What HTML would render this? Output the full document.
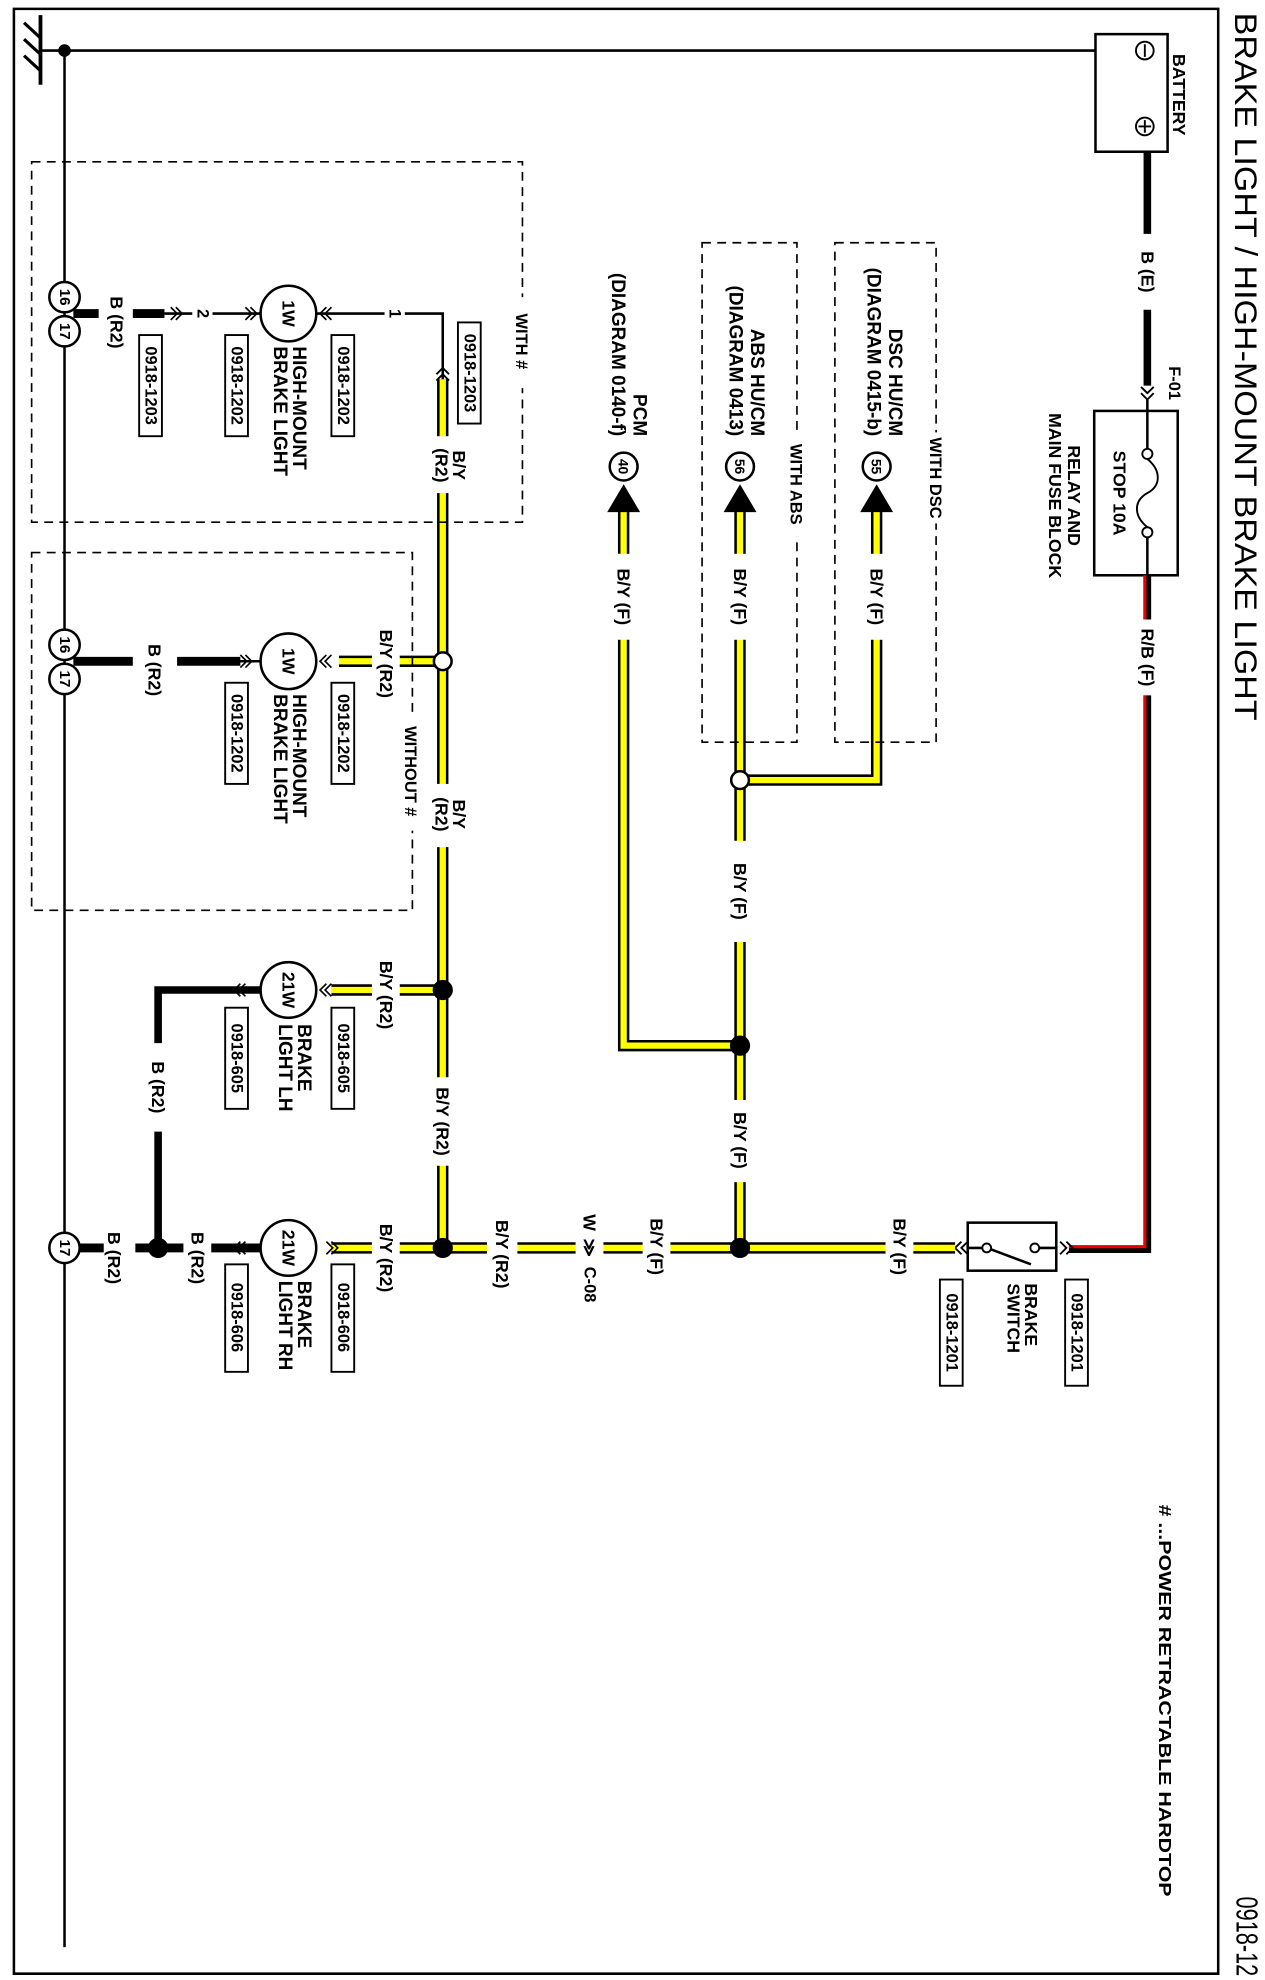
<!DOCTYPE html>
<html><head><meta charset="utf-8"><style>
html,body{margin:0;padding:0;background:#fff;width:1265px;height:1980px;overflow:hidden}
svg{display:block}
text{font-family:"Liberation Sans",Arial,sans-serif;font-weight:bold;fill:#000;dominant-baseline:central}
</style></head><body>
<svg width="1265" height="1980" viewBox="0 0 1000 1566" preserveAspectRatio="none" xmlns="http://www.w3.org/2000/svg">
<rect x="0" y="0" width="1000" height="1566" fill="#fff"/>
<path d="M11 1561 V7 H963 V1561 Z" fill="none" stroke="#000" stroke-width="2"/>
<path d="M32 12 V67" stroke="#000" stroke-width="3"/>
<path d="M19 18 L32 30 M19 31 L32 43 M19 44 L32 56" stroke="#000" stroke-width="2.5"/>
<path d="M32 40 H907 M51 40 V1540" stroke="#000" stroke-width="2"/>
<circle cx="51" cy="40" r="5"/>
<rect x="866" y="27" width="57" height="93" fill="#fff" stroke="#000" stroke-width="2"/>
<circle cx="905" cy="40" r="7" fill="#fff" stroke="#000" stroke-width="1.5"/><path d="M905 35 V45" stroke="#000" stroke-width="1.5"/>
<circle cx="905" cy="100" r="7" fill="#fff" stroke="#000" stroke-width="1.5"/><path d="M905 95 V105 M900 100 H910" stroke="#000" stroke-width="1.5"/>
<text transform="translate(932,75) rotate(90)" font-size="14" text-anchor="middle">BATTERY</text>
<text transform="translate(985,10) rotate(90)" font-size="25" textLength="560" lengthAdjust="spacingAndGlyphs" style="font-weight:normal">BRAKE LIGHT / HIGH-MOUNT BRAKE LIGHT</text>
<text transform="translate(985,1500) rotate(90)" font-size="24" textLength="63" lengthAdjust="spacingAndGlyphs" style="font-weight:normal">0918-12</text>
<text transform="translate(921,1190) rotate(90)" font-size="14" textLength="310" lengthAdjust="spacingAndGlyphs">#  ...POWER RETRACTABLE HARDTOP</text>
<path d="M907 120 V185 M907 245 V305" stroke="#000" stroke-width="6"/>
<text transform="translate(907,215) rotate(90)" font-size="14" text-anchor="middle">B (E)</text>
<text transform="translate(928,303) rotate(90)" font-size="13" text-anchor="middle">F-01</text>
<path d="M902 306 L907 311 L912 306 M902 311 L907 316 L912 311" fill="none" stroke="#000" stroke-width="1.5"/>
<rect x="865" y="325" width="66" height="130" fill="#fff" stroke="#000" stroke-width="2"/>
<path d="M907 316 V355 M907 425 V455" stroke="#000" stroke-width="2"/>
<circle cx="907" cy="359" r="4" fill="#fff" stroke="#000" stroke-width="1.5"/>
<circle cx="907" cy="421" r="4" fill="#fff" stroke="#000" stroke-width="1.5"/>
<path d="M907 363 C918 372 918 384 907 390 C896 396 896 408 907 417" fill="none" stroke="#000" stroke-width="1.5"/>
<text transform="translate(885,390) rotate(90)" font-size="14" text-anchor="middle">STOP 10A</text>
<text transform="translate(849,392) rotate(90)" font-size="14" text-anchor="middle">RELAY AND</text>
<text transform="translate(834,392) rotate(90)" font-size="14" text-anchor="middle">MAIN FUSE BLOCK</text>
<path d="M907 455 V490 M907 550 V988 H845" fill="none" stroke="#000" stroke-width="6"/>
<path d="M905 455 V490 M905 550 V986 H845" fill="none" stroke="#e00" stroke-width="2.5"/>
<text transform="translate(907,520) rotate(90)" font-size="14" text-anchor="middle">R/B (F)</text>
<path d="M843 982 L848 987 L843 992 M838 982 L843 987 L838 992" fill="none" stroke="#000" stroke-width="1.5"/>
<rect x="765" y="967" width="70" height="38" fill="#fff" stroke="#000" stroke-width="2"/>
<path d="M835 987 H822 M777 987 H765" stroke="#000" stroke-width="2"/>
<circle cx="818" cy="987" r="3.5" fill="#fff" stroke="#000" stroke-width="1.5"/>
<circle cx="780" cy="987" r="3.5" fill="#fff" stroke="#000" stroke-width="1.5"/>
<path d="M783 988 L815 1000" stroke="#000" stroke-width="2"/>
<rect x="842" y="1012" width="18" height="84" fill="#fff" stroke="#000" stroke-width="1.5"/>
<text transform="translate(851,1054) rotate(90)" font-size="13" text-anchor="middle">0918-1201</text>
<rect x="743" y="1012" width="18" height="84" fill="#fff" stroke="#000" stroke-width="1.5"/>
<text transform="translate(752,1054) rotate(90)" font-size="13" text-anchor="middle">0918-1201</text>
<text transform="translate(815,1015) rotate(90)" font-size="14">BRAKE</text>
<text transform="translate(801,1015) rotate(90)" font-size="14">SWITCH</text>
<path d="M760 982 L755 987 L760 992 M765 982 L760 987 L765 992" fill="none" stroke="#000" stroke-width="1.5"/>

<g fill="none" stroke="#000" stroke-width="9">
<path d="M755 987 H262"/><path d="M585 987 V400"/><path d="M585 617 H693 V400"/>
<path d="M585 827 H493 V400"/><path d="M350 987 V300"/><path d="M350 783 H262"/><path d="M350 523 H268"/>
</g>
<g fill="none" stroke="#ff0" stroke-width="5">
<path d="M755 987 H262"/><path d="M585 987 V400"/><path d="M585 617 H693 V400"/>
<path d="M585 827 H493 V400"/><path d="M350 987 V300"/><path d="M350 783 H262"/><path d="M350 523 H268"/>
</g>
<g fill="#fff">
<rect x="700" y="957" width="22" height="58"/><rect x="508" y="957" width="22" height="58"/>
<rect x="455" y="957" width="22" height="80"/><rect x="385" y="957" width="24" height="70"/>
<rect x="294" y="957" width="22" height="75"/><rect x="294" y="752" width="22" height="70"/>
<rect x="294" y="497" width="22" height="55"/><rect x="338" y="852" width="24" height="70"/>
<rect x="338" y="620" width="24" height="50"/><rect x="338" y="345" width="24" height="45"/>
<rect x="574" y="665" width="22" height="80"/><rect x="574" y="870" width="22" height="65"/>
<rect x="574" y="438" width="22" height="68"/><rect x="482" y="438" width="22" height="68"/>
<rect x="682" y="438" width="22" height="68"/>
</g>
<g font-size="14" text-anchor="middle">
<text transform="translate(711,986) rotate(90)">B/Y (F)</text>
<text transform="translate(519,986) rotate(90)">B/Y (F)</text>
<text transform="translate(466,967) rotate(90)">W</text>
<text transform="translate(466,987) rotate(90)">≫</text>
<text transform="translate(466,1016) rotate(90)" font-size="13">C-08</text>
<text transform="translate(397,992) rotate(90)">B/Y (R2)</text>
<text transform="translate(305,995) rotate(90)">B/Y (R2)</text>
<text transform="translate(305,787) rotate(90)">B/Y (R2)</text>
<text transform="translate(305,525) rotate(90)">B/Y (R2)</text>
<text transform="translate(350,887) rotate(90)">B/Y (R2)</text>
<text transform="translate(363,644) rotate(90)">B/Y</text>
<text transform="translate(349,644) rotate(90)">(R2)</text>
<text transform="translate(363,368) rotate(90)">B/Y</text>
<text transform="translate(349,368) rotate(90)">(R2)</text>
<text transform="translate(585,705) rotate(90)">B/Y (F)</text>
<text transform="translate(585,902) rotate(90)">B/Y (F)</text>
<text transform="translate(585,472) rotate(90)">B/Y (F)</text>
<text transform="translate(493,472) rotate(90)">B/Y (F)</text>
<text transform="translate(693,472) rotate(90)">B/Y (F)</text>
</g>
<circle cx="585" cy="987" r="8"/><circle cx="350" cy="987" r="8"/>
<circle cx="585" cy="827" r="8"/><circle cx="350" cy="783" r="8"/>
<circle cx="585" cy="617" r="7" fill="#fff" stroke="#000" stroke-width="2"/>
<circle cx="350" cy="523" r="7" fill="#fff" stroke="#000" stroke-width="2"/>
<path d="M693 383 L680 405 L706 405 Z"/><circle cx="693" cy="369" r="11" fill="#fff" stroke="#000" stroke-width="2"/>
<path d="M585 383 L572 405 L598 405 Z"/><circle cx="585" cy="369" r="11" fill="#fff" stroke="#000" stroke-width="2"/>
<path d="M493 383 L480 405 L506 405 Z"/><circle cx="493" cy="369" r="11" fill="#fff" stroke="#000" stroke-width="2"/>
<text transform="translate(693,369) rotate(90)" font-size="11" text-anchor="middle">55</text>
<text transform="translate(585,369) rotate(90)" font-size="11" text-anchor="middle">56</text>
<text transform="translate(493,369) rotate(90)" font-size="11" text-anchor="middle">40</text>
<g font-size="15" text-anchor="end">
<text transform="translate(707,345) rotate(90)">DSC HU/CM</text>
<text transform="translate(690,345) rotate(90)">(DIAGRAM 0415-b)</text>
<text transform="translate(598,345) rotate(90)">ABS HU/CM</text>
<text transform="translate(581,345) rotate(90)">(DIAGRAM 0413)</text>
<text transform="translate(505,345) rotate(90)">PCM</text>
<text transform="translate(488,345) rotate(90)">(DIAGRAM  0140-f)</text>
</g>
<g fill="none" stroke="#000" stroke-width="1.3" stroke-dasharray="7,5">
<rect x="660" y="192" width="80" height="395"/><rect x="555" y="192" width="75" height="395"/>
<rect x="25" y="128" width="388" height="285"/><rect x="25" y="437" width="301" height="283"/>
</g>
<g fill="#fff">
<rect x="731" y="342" width="18" height="72"/><rect x="621" y="342" width="18" height="82"/>
<rect x="403" y="235" width="18" height="72"/><rect x="316" y="565" width="18" height="92"/>
</g>
<text transform="translate(739,378) rotate(90)" font-size="13" text-anchor="middle">WITH DSC</text>
<text transform="translate(629,383) rotate(90)" font-size="13" text-anchor="middle">WITH ABS</text>
<text transform="translate(412,270) rotate(90)" font-size="13" text-anchor="middle">WITH #</text>
<text transform="translate(324,610) rotate(90)" font-size="13" text-anchor="middle">WITHOUT #</text>

<path d="M350 300 V248 H250" fill="none" stroke="#000" stroke-width="2"/>
<path d="M345 296 L350 291 L355 296 M345 301 L350 296 L355 301" fill="none" stroke="#000" stroke-width="1.5"/>
<rect x="362" y="255" width="18" height="80" fill="#fff" stroke="#000" stroke-width="1.5"/>
<text transform="translate(371,295) rotate(90)" font-size="13" text-anchor="middle">0918-1203</text>
<rect x="304" y="240" width="16" height="16" fill="#fff"/>
<text transform="translate(312,248) rotate(90)" font-size="13" text-anchor="middle">1</text>
<circle cx="228" cy="248" r="22" fill="#fff" stroke="#000" stroke-width="2"/>
<text transform="translate(228,248) rotate(90)" font-size="14" text-anchor="middle">1W</text>
<path d="M206 248 H130" stroke="#000" stroke-width="2"/>
<rect x="152" y="240" width="16" height="16" fill="#fff"/>
<text transform="translate(160,248) rotate(90)" font-size="13" text-anchor="middle">2</text>
<path d="M130 248 H105 M78 248 H58" stroke="#000" stroke-width="7"/>
<text transform="translate(92,255) rotate(90)" font-size="14" text-anchor="middle">B (R2)</text>
<g fill="none" stroke="#000" stroke-width="1.3">
<path d="M258 243 L253 248 L258 253 M262 243 L257 248 L262 253"/>
<path d="M198 243 L203 248 L198 253 M194 243 L199 248 L194 253"/>
<path d="M135 243 L140 248 L135 253 M139 243 L144 248 L139 253"/>
</g>
<rect x="262" y="265" width="18" height="80" fill="#fff" stroke="#000" stroke-width="1.5"/>
<text transform="translate(271,305) rotate(90)" font-size="13" text-anchor="middle">0918-1202</text>
<rect x="178" y="265" width="18" height="80" fill="#fff" stroke="#000" stroke-width="1.5"/>
<text transform="translate(187,305) rotate(90)" font-size="13" text-anchor="middle">0918-1202</text>
<rect x="110" y="265" width="18" height="80" fill="#fff" stroke="#000" stroke-width="1.5"/>
<text transform="translate(119,305) rotate(90)" font-size="13" text-anchor="middle">0918-1203</text>
<text transform="translate(236,274) rotate(90)" font-size="15">HIGH-MOUNT</text>
<text transform="translate(221,274) rotate(90)" font-size="15">BRAKE LIGHT</text>
<circle cx="51" cy="235" r="12" fill="#fff" stroke="#000" stroke-width="2"/>
<circle cx="51" cy="262" r="12" fill="#fff" stroke="#000" stroke-width="2"/>
<text transform="translate(51,235) rotate(90)" font-size="12" text-anchor="middle">16</text>
<text transform="translate(51,262) rotate(90)" font-size="12" text-anchor="middle">17</text>

<circle cx="228" cy="523" r="22" fill="#fff" stroke="#000" stroke-width="2"/>
<text transform="translate(228,523) rotate(90)" font-size="14" text-anchor="middle">1W</text>
<path d="M190 523 H140 M105 523 H58" stroke="#000" stroke-width="7"/>
<path d="M206 523 H185" stroke="#000" stroke-width="2"/>
<text transform="translate(122,530) rotate(90)" font-size="14" text-anchor="middle">B (R2)</text>
<g fill="none" stroke="#000" stroke-width="1.3">
<path d="M258 518 L253 523 L258 528 M262 518 L257 523 L262 528"/>
<path d="M194 518 L199 523 L194 528 M190 518 L195 523 L190 528"/>
</g>
<rect x="262" y="540" width="18" height="80" fill="#fff" stroke="#000" stroke-width="1.5"/>
<text transform="translate(271,580) rotate(90)" font-size="13" text-anchor="middle">0918-1202</text>
<rect x="178" y="540" width="18" height="80" fill="#fff" stroke="#000" stroke-width="1.5"/>
<text transform="translate(187,580) rotate(90)" font-size="13" text-anchor="middle">0918-1202</text>
<text transform="translate(236,549) rotate(90)" font-size="15">HIGH-MOUNT</text>
<text transform="translate(221,549) rotate(90)" font-size="15">BRAKE LIGHT</text>
<circle cx="51" cy="510" r="12" fill="#fff" stroke="#000" stroke-width="2"/>
<circle cx="51" cy="537" r="12" fill="#fff" stroke="#000" stroke-width="2"/>
<text transform="translate(51,510) rotate(90)" font-size="12" text-anchor="middle">16</text>
<text transform="translate(51,537) rotate(90)" font-size="12" text-anchor="middle">17</text>

<circle cx="228" cy="783" r="22" fill="#fff" stroke="#000" stroke-width="2"/>
<text transform="translate(228,783) rotate(90)" font-size="14" text-anchor="middle">21W</text>
<path d="M190 783 H125 V825 M125 895 V987" fill="none" stroke="#000" stroke-width="6"/>
<path d="M206 783 H190" stroke="#000" stroke-width="6"/>
<text transform="translate(125,860) rotate(90)" font-size="14" text-anchor="middle">B (R2)</text>
<g fill="none" stroke="#000" stroke-width="1.3">
<path d="M258 778 L253 783 L258 788 M262 778 L257 783 L262 788"/>
<path d="M190 778 L185 783 L190 788 M194 778 L189 783 L194 788"/>
</g>
<rect x="262" y="797" width="18" height="80" fill="#fff" stroke="#000" stroke-width="1.5"/>
<text transform="translate(271,837) rotate(90)" font-size="13" text-anchor="middle">0918-605</text>
<rect x="178" y="797" width="18" height="80" fill="#fff" stroke="#000" stroke-width="1.5"/>
<text transform="translate(187,837) rotate(90)" font-size="13" text-anchor="middle">0918-605</text>
<text transform="translate(240,810) rotate(90)" font-size="15">BRAKE</text>
<text transform="translate(225,810) rotate(90)" font-size="15">LIGHT LH</text>

<circle cx="228" cy="987" r="22" fill="#fff" stroke="#000" stroke-width="2"/>
<text transform="translate(228,987) rotate(90)" font-size="14" text-anchor="middle">21W</text>
<path d="M206 987 H167 M145 987 H107 M82 987 H62" stroke="#000" stroke-width="7"/>
<circle cx="125" cy="987" r="8"/>
<text transform="translate(156,995) rotate(90)" font-size="14" text-anchor="middle">B (R2)</text>
<text transform="translate(90,995) rotate(90)" font-size="14" text-anchor="middle">B (R2)</text>
<g fill="none" stroke="#000" stroke-width="1.3">
<path d="M258 982 L263 987 L258 992 M262 982 L267 987 L262 992"/>
<path d="M190 982 L185 987 L190 992 M194 982 L189 987 L194 992"/>
</g>
<rect x="262" y="1000" width="18" height="85" fill="#fff" stroke="#000" stroke-width="1.5"/>
<text transform="translate(271,1042) rotate(90)" font-size="13" text-anchor="middle">0918-606</text>
<rect x="178" y="1000" width="18" height="85" fill="#fff" stroke="#000" stroke-width="1.5"/>
<text transform="translate(187,1042) rotate(90)" font-size="13" text-anchor="middle">0918-606</text>
<text transform="translate(240,1013) rotate(90)" font-size="15">BRAKE</text>
<text transform="translate(225,1013) rotate(90)" font-size="15">LIGHT RH</text>
<circle cx="51" cy="987" r="12" fill="#fff" stroke="#000" stroke-width="2"/>
<text transform="translate(51,987) rotate(90)" font-size="12" text-anchor="middle">17</text>
</svg>
</body></html>
